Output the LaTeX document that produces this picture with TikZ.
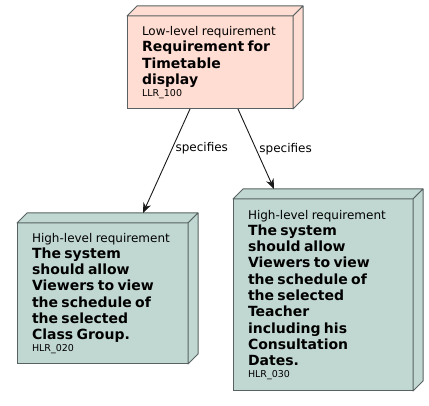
\documentclass[tikz,border=0pt]{standalone}
\usepackage{fontspec}
\setmainfont{DejaVu Sans}
\usetikzlibrary{
	arrows.meta,
	positioning,
	calc
}
\definecolor{llrpink}{RGB}{255,221,210}
\definecolor{hlrgreen}{RGB}{193,216,210}
\definecolor{edgegray}{RGB}{88,98,98}
\definecolor{arrowgray}{RGB}{24,24,24}

% text lines inside a requirement box
\newcommand{\stereo}[1]{{\fontsize{12}{14}\selectfont #1\par}}
\newcommand{\reqtitle}[1]{{\fontsize{14}{16.3}\selectfont\bfseries #1\par}}
\newcommand{\reqid}[1]{{\fontsize{9.5}{12}\selectfont #1\par}}

% top and side faces of a box node
\newcommand{\boxfaces}[2]{%
	\filldraw[fill=#2,draw=edgegray,line width=1pt,line join=round]
		(#1.north west) -- ++(10,-10) -- ($(#1.north east)+(10,-10)$) -- (#1.north east) -- cycle;
	\filldraw[fill=#2,draw=edgegray,line width=1pt,line join=round]
		(#1.north east) -- ++(10,-10) -- ($(#1.south east)+(10,-10)$) -- (#1.south east) -- cycle;
}

\tikzset{
	reqbox/.style={rectangle,draw=edgegray,line width=1pt,outer sep=0pt,inner xsep=15pt,inner ysep=0pt,align=left},
	spec/.style={-{Stealth[length=10pt,width=8pt,inset=3pt]},draw=arrowgray,line width=0.9pt},
	lbl/.style={anchor=west,inner sep=3pt,font=\fontsize{12}{14}\selectfont}
}

\begin{document}
\begin{tikzpicture}[x=1pt,y=-1pt]
		\useasboundingbox (0,0) rectangle (429,406);
		
		% Low-level requirement
		\node[reqbox,fill=llrpink,text width=136pt,minimum height=93pt] (llr) at (210,62.5)
			{\stereo{Low-level requirement}\reqtitle{Requirement for\par Timetable\par display}\reqid{LLR\_100}};
		\boxfaces{llr}{llrpink}
		
		% High-level requirements
		\node[reqbox,fill=hlrgreen,text width=141pt,minimum height=141pt] (hlr020) at (102.5,293.5)
			{\stereo{High-level requirement}\reqtitle{The system\par should allow\par Viewers to view\par the schedule of\par the selected\par Class Group.}\reqid{HLR\_020}};
		\boxfaces{hlr020}{hlrgreen}
		
		\node[reqbox,fill=hlrgreen,text width=150pt,minimum height=192pt] (hlr030) at (323,295)
			{\stereo{High-level requirement}\reqtitle{The system\par should allow\par Viewers to view\par the schedule of\par the selected\par Teacher\par including his\par Consultation\par Dates.}\reqid{HLR\_030}};
		\boxfaces{hlr030}{hlrgreen}
		
		% Links
		\draw[spec] ($(llr.south)+(-20,0)$) -- node[lbl,pos=0.38] {specifies} ($(hlr020.north)+(40.5,-10)$);
		\draw[spec] ($(llr.south)+(28,0)$) -- node[lbl,pos=0.5] {specifies} ($(hlr030.north)+(-49,-10)$);
		
	\end{tikzpicture}
\end{document}
